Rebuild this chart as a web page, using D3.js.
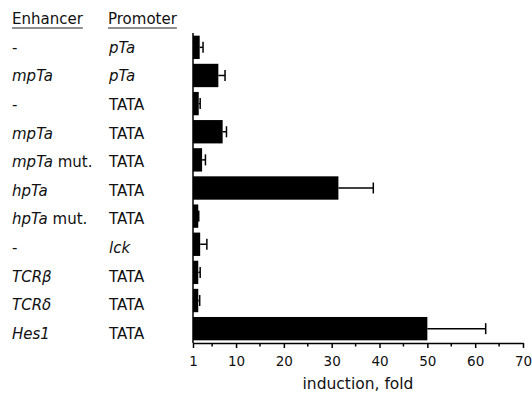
<!DOCTYPE html>
<html>
<head>
<meta charset="utf-8">
<script src="https://cdn.jsdelivr.net/npm/d3@7/dist/d3.min.js"></script>
<style>
  body { margin: 0; background: #fff; }
  text { font-family: "DejaVu Sans", sans-serif; fill: #111; }
</style>
</head>
<body>
<script>
// rows: enhancer / promoter construct, top to bottom
var enhancers = [
  [["-", false]],
  [["mpTa", true]],
  [["-", false]],
  [["mpTa", true]],
  [["mpTa", true], [" mut.", false]],
  [["hpTa", true]],
  [["hpTa", true], [" mut.", false]],
  [["-", false]],
  [["TCR\u03b2", true]],
  [["TCR\u03b4", true]],
  [["Hes1", true]]
];
var promoters = [["pTa", true], ["pTa", true], ["TATA", false], ["TATA", false], ["TATA", false],
  ["TATA", false], ["TATA", false], ["lck", true], ["TATA", false], ["TATA", false], ["TATA", false]];
var induction = [2.4, 6.3, 2.2, 7.2, 2.9, 31.4, 2.1, 2.5, 2.1, 2.1, 50];
var errorTop = [3.1, 7.7, 2.5, 8.0, 3.6, 38.7, 2.2, 3.9, 2.5, 2.4, 62.2];
var xTicks = [1, 10, 20, 30, 40, 50, 60, 70];
var xMinor = [5, 15, 25, 35, 45, 55, 65];

var width = 532, height = 396;
var rows = d3.range(induction.length);
var labelSize = 15;

var svg = d3.select("body")
            .append("svg")
            .attr("width", width)
            .attr("height", height);

var x = d3.scaleLinear().domain([1, 70]).range([193, 523]);
var y = d3.scaleBand().domain(rows).range([33, 343]).paddingInner(0.17).paddingOuter(0.095);
var yLabel = d3.scalePoint().domain(rows).range([47.5, 333.3]);

// column headers
var heads = [["Enhancer", 12], ["Promoter", 108]];
heads.forEach(function (h) {
  var t = svg.append("text")
     .attr("x", h[1]).attr("y", 24)
     .attr("font-size", labelSize)
     .text(h[0]);
  var w = t.node().getComputedTextLength();
  svg.append("line")
     .attr("x1", h[1]).attr("x2", h[1] + w)
     .attr("y1", 28).attr("y2", 28)
     .attr("stroke", "#222").attr("stroke-width", 1);
});

// row labels
rows.forEach(function (i) {
  var t = svg.append("text")
     .attr("x", 12).attr("y", yLabel(i))
     .attr("dy", "0.36em")
     .attr("font-size", labelSize);
  enhancers[i].forEach(function (p) {
    t.append("tspan").text(p[0]).attr("font-style", p[1] ? "italic" : "normal");
  });
  svg.append("text")
     .attr("x", 109).attr("y", yLabel(i))
     .attr("dy", "0.36em")
     .attr("font-size", labelSize)
     .attr("font-style", promoters[i][1] ? "italic" : "normal")
     .text(promoters[i][0]);
});

// bars
svg.selectAll("rect.bar")
   .data(rows)
   .enter()
   .append("rect")
   .attr("class", "bar")
   .attr("x", x(1))
   .attr("y", function (i) { return y(i); })
   .attr("width", function (i) { return x(induction[i]) - x(1); })
   .attr("height", y.bandwidth())
   .attr("fill", "#000");

// error bars
var err = svg.selectAll("g.err")
   .data(rows)
   .enter()
   .append("g")
   .attr("class", "err");
err.append("line")
   .attr("x1", function (i) { return x(induction[i]); })
   .attr("x2", function (i) { return x(errorTop[i]); })
   .attr("y1", function (i) { return y(i) + y.bandwidth() / 2; })
   .attr("y2", function (i) { return y(i) + y.bandwidth() / 2; })
   .attr("stroke", "#000").attr("stroke-width", 1.5);
err.append("line")
   .attr("x1", function (i) { return x(errorTop[i]); })
   .attr("x2", function (i) { return x(errorTop[i]); })
   .attr("y1", function (i) { return y(i) + y.bandwidth() / 2 - 5.5; })
   .attr("y2", function (i) { return y(i) + y.bandwidth() / 2 + 5.5; })
   .attr("stroke", "#000").attr("stroke-width", 1.5);

// left axis line
svg.append("line")
   .attr("x1", x(1)).attr("x2", x(1))
   .attr("y1", 33).attr("y2", 343)
   .attr("stroke", "#000").attr("stroke-width", 1.5);

// x axis
var xAxis = d3.axisBottom(x).tickValues(xTicks).tickSize(5).tickSizeOuter(0).tickPadding(8);
var gx = svg.append("g")
   .attr("transform", "translate(0,343)")
   .call(xAxis);
gx.select(".domain").attr("stroke", "#000").attr("stroke-width", 1.5);
gx.selectAll(".tick line").attr("stroke", "#000").attr("stroke-width", 1.5);
gx.selectAll(".tick text").attr("font-size", 13.5).attr("font-family", "DejaVu Sans").attr("fill", "#111");

gx.selectAll("line.minor")
   .data(xMinor)
   .enter()
   .append("line")
   .attr("class", "minor")
   .attr("x1", function (d) { return x(d); })
   .attr("x2", function (d) { return x(d); })
   .attr("y1", 0).attr("y2", 3.5)
   .attr("stroke", "#000").attr("stroke-width", 1.5);

svg.append("text")
   .attr("x", 358).attr("y", 389)
   .attr("text-anchor", "middle")
   .attr("font-size", 15.5)
   .text("induction, fold");
</script>
</body>
</html>
